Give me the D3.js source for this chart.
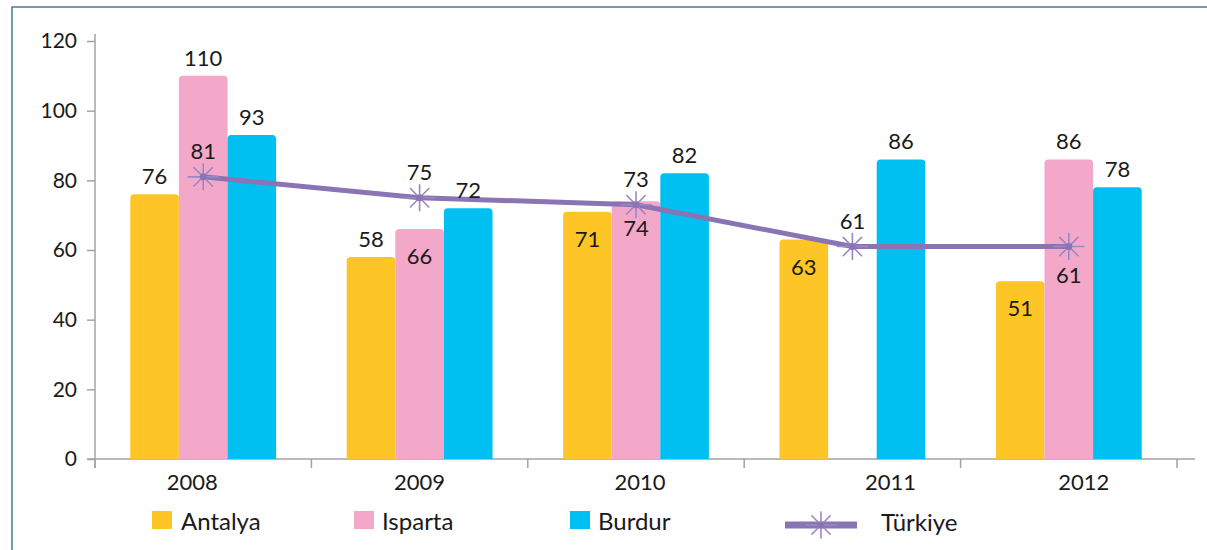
<!DOCTYPE html>
<html>
<head>
<meta charset="utf-8">
<script src="https://cdn.jsdelivr.net/npm/d3@7/dist/d3.min.js"></script>
<style>
  html, body { margin: 0; padding: 0; background: #fff; }
  svg text { font-family: Lato, "Open Sans", "DejaVu Sans", sans-serif; fill: #1a1a1a; }
</style>
</head>
<body>
<svg id="chart" width="1207" height="550"></svg>
<script>
// Years on the category axis
const years = ["2008", "2009", "2010", "2011", "2012"];
// Province series (Isparta has no value for 2011)
const seriesNames = ["Antalya", "Isparta", "Burdur"];
const antalya = [76, 58, 71, 63, 51];
const isparta = [110, 66, 74, null, 86];
const burdur  = [93, 72, 82, 86, 78];
// National average drawn as a line
const turkiye = [81, 75, 73, 61, 61];
// Y axis ticks
const yTicks = [0, 20, 40, 60, 80, 100, 120];
// Where each value label sits relative to its bar / marker
const antalyaLabelPos = ["above", "above", "inside", "inside", "inside"];
const ispartaLabelPos = ["above", "inside", "inside", "none", "above"];
const burdurLabelPos  = ["above", "above", "above", "above", "above"];
const turkiyeLabelPos = ["above", "above", "above", "above", "below"];

const colors = { Antalya: "#FDC526", Isparta: "#F4A8C9", Burdur: "#00BFF1" };
const lineColor = "#8B74B3";
const starColor = "#9A88C6";
const axisColor = "#A3A3A3";

const svg = d3.select("#chart");

// outer frame
svg.append("path")
  .attr("d", "M12,560 L12,7 L1220,7")
  .attr("fill", "none").attr("stroke", "#4F7892").attr("stroke-width", 1.5);

const x = d3.scaleBand().domain(years).range([95, 1177]).padding(0);
const xs = d3.scaleBand().domain(seriesNames).range([0, x.bandwidth()]).paddingInner(0).paddingOuter(0.726);
const y = d3.scaleLinear().domain([0, 120]).range([459, 41]);

// Y axis
const yAxis = d3.axisLeft(y).tickValues(yTicks).tickSize(8).tickPadding(10);
const gy = svg.append("g").attr("transform", "translate(95,0)").call(yAxis);
gy.select(".domain").remove();
gy.selectAll(".tick line").attr("stroke", axisColor).attr("stroke-width", 1.5);
gy.selectAll(".tick text").attr("font-size", 21).attr("fill", "#1a1a1a")
  .attr("font-family", "Lato, 'Open Sans', sans-serif");
svg.append("line").attr("x1", 95).attr("x2", 95).attr("y1", 34).attr("y2", 468)
  .attr("stroke", axisColor).attr("stroke-width", 1.5);

// X axis
svg.append("line").attr("x1", 87).attr("x2", 1195).attr("y1", 459).attr("y2", 459)
  .attr("stroke", axisColor).attr("stroke-width", 1.5);
const boundaries = years.map(d => x(d)).concat([x(years[years.length - 1]) + x.bandwidth()]);
svg.selectAll(".xtick").data(boundaries).join("line")
  .attr("x1", d => d).attr("x2", d => d).attr("y1", 459).attr("y2", 468)
  .attr("stroke", axisColor).attr("stroke-width", 1.5);
// small horizontal nudges for the year captions
const yearCaptionShift = [-11, 0, 4, 38, 15];
svg.selectAll(".year").data(years).join("text")
  .attr("x", (d, i) => x(d) + x.bandwidth() / 2 + yearCaptionShift[i])
  .attr("y", 490).attr("text-anchor", "middle").attr("font-size", 22)
  .text(d => d);

// Bars with rounded top corners
function barPath(x0, w, yTop, yBase, r) {
  r = Math.min(r, (yBase - yTop));
  return `M${x0},${yBase} L${x0},${yTop + r} Q${x0},${yTop} ${x0 + r},${yTop} ` +
         `L${x0 + w - r},${yTop} Q${x0 + w},${yTop} ${x0 + w},${yTop + r} L${x0 + w},${yBase} Z`;
}
const seriesValues = { Antalya: antalya, Isparta: isparta, Burdur: burdur };
const seriesLabelPos = { Antalya: antalyaLabelPos, Isparta: ispartaLabelPos, Burdur: burdurLabelPos };

seriesNames.forEach(name => {
  const vals = seriesValues[name];
  const rows = years.map((yr, i) => ({ yr, v: vals[i], pos: seriesLabelPos[name][i] }))
    .filter(d => d.v != null);
  svg.append("g").selectAll("path").data(rows).join("path")
    .attr("d", d => barPath(x(d.yr) + xs(name), xs.bandwidth(), y(d.v), y(0), 4))
    .attr("fill", colors[name]);
});

// Türkiye line
const cx = i => x(years[i]) + xs("Isparta") + xs.bandwidth() / 2;
const line = d3.line().x((d, i) => cx(i)).y(d => y(d));
svg.append("path").datum(turkiye).attr("d", line)
  .attr("fill", "none").attr("stroke", lineColor).attr("stroke-width", 5)
  .attr("stroke-linejoin", "round");

function star(g, px, py, r) {
  const s = g.append("g").attr("transform", `translate(${px},${py})`);
  for (let k = 0; k < 4; k++) {
    const a = k * Math.PI / 4;
    const rr = (k === 0) ? r * 1.15 : r;
    s.append("line")
      .attr("x1", -rr * Math.cos(a)).attr("y1", -rr * Math.sin(a))
      .attr("x2", rr * Math.cos(a)).attr("y2", rr * Math.sin(a))
      .attr("stroke", starColor).attr("stroke-width", 1.6).attr("stroke-linecap", "round");
  }
  s.append("circle").attr("r", 3.5).attr("fill", lineColor);
}
const markers = svg.append("g");
turkiye.forEach((v, i) => star(markers, cx(i), y(v), 13));

// Value labels
const labels = svg.append("g").attr("font-size", 22).attr("text-anchor", "middle");
seriesNames.forEach(name => {
  seriesValues[name].forEach((v, i) => {
    const pos = seriesLabelPos[name][i];
    if (v == null || pos === "none") return;
    const bx = x(years[i]) + xs(name) + xs.bandwidth() / 2;
    const by = pos === "above" ? y(v) - 10 : y(v) + 35;
    labels.append("text").attr("x", bx).attr("y", by).text(v);
  });
});
turkiye.forEach((v, i) => {
  const pos = turkiyeLabelPos[i];
  const by = pos === "above" ? y(v) - 18 : y(v) + 36;
  labels.append("text").attr("x", cx(i)).attr("y", by).text(v);
});

// Legend
const legend = svg.append("g");
const legendItems = [
  { name: "Antalya", sx: 152, tx: 181 },
  { name: "Isparta", sx: 354, tx: 382 },
  { name: "Burdur",  sx: 570, tx: 598 }
];
legendItems.forEach(d => {
  legend.append("rect").attr("x", d.sx).attr("y", 511).attr("width", 20).attr("height", 18)
    .attr("fill", colors[d.name]);
  legend.append("text").attr("x", d.tx).attr("y", 530).attr("font-size", 24).text(d.name);
});
legend.append("line").attr("x1", 785).attr("x2", 857).attr("y1", 525).attr("y2", 525)
  .attr("stroke", lineColor).attr("stroke-width", 7);
star(legend, 821, 525, 13);
legend.append("text").attr("x", 881).attr("y", 531).attr("font-size", 24).text("Türkiye");
</script>
</body>
</html>
